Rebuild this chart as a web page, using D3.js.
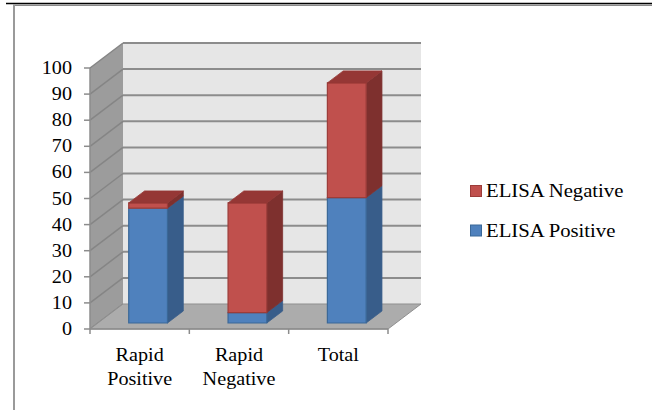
<!DOCTYPE html>
<html>
<head>
<meta charset="utf-8">
<script src="https://cdn.jsdelivr.net/npm/d3@7/dist/d3.min.js"></script>
<style>
  html, body { margin: 0; padding: 0; background: #fff; }
  svg { display: block; }
  text { font-family: "Times New Roman", "Liberation Serif", serif; fill: #000; }
</style>
</head>
<body>
<svg id="chart" width="652" height="410"></svg>
<script>
// Rapid test vs ELISA results (stacked counts)
const categories = [["Rapid", "Positive"], ["Rapid", "Negative"], ["Total"]];
const seriesNames = ["ELISA Positive", "ELISA Negative"];
const elisaPositive = [44, 4, 48];
const elisaNegative = [2, 42, 44];
const yTicks = [0, 10, 20, 30, 40, 50, 60, 70, 80, 90, 100];

const svg = d3.select("#chart");

// Page frame
svg.append("line").attr("x1", 6).attr("x2", 652).attr("y1", 3.5).attr("y2", 3.5)
  .attr("stroke", "#000").attr("stroke-width", 1.5);
svg.append("line").attr("x1", 13).attr("x2", 652).attr("y1", 5.2).attr("y2", 5.2)
  .attr("stroke", "#8a8a8a").attr("stroke-width", 1.4);
svg.append("line").attr("x1", 14).attr("x2", 14).attr("y1", 5).attr("y2", 410)
  .attr("stroke", "#9a9a9a").attr("stroke-width", 2);

// 3-D plot geometry: front plane plus an oblique depth offset
const DX = 33, DY = -25;
const x = d3.scaleBand().domain(d3.range(categories.length)).range([90, 388]).padding(0);
const y = d3.scaleLinear().domain([0, 100]).range([329, 68]);
const P = (px, v, depth) => [px + depth * DX, y(v) + depth * DY];
const poly = pts => "M" + pts.map(p => p.join(",")).join("L") + "Z";

const x0 = x.range()[0], x1 = x.range()[1];
const g = svg.append("g");

// Back wall
g.append("path")
  .attr("d", poly([P(x0, 100, 1), P(x1, 100, 1), P(x1, 0, 1), P(x0, 0, 1)]))
  .attr("fill", "#e6e6e6");
// Side wall
g.append("path")
  .attr("d", poly([P(x0, 0, 0), P(x0, 100, 0), P(x0, 100, 1), P(x0, 0, 1)]))
  .attr("fill", "#9c9c9c");

// Gridlines on back wall and side wall
yTicks.forEach(v => {
  if (v > 0) {
    const a = P(x0, v, 1), b = P(x1, v, 1);
    g.append("line").attr("x1", a[0]).attr("y1", a[1]).attr("x2", b[0]).attr("y2", b[1])
      .attr("stroke", "#8c8c8c").attr("stroke-width", 2);
  }
  const c = P(x0, v, 0), d = P(x0, v, 1);
  g.append("line").attr("x1", c[0]).attr("y1", c[1]).attr("x2", d[0]).attr("y2", d[1])
    .attr("stroke", "#858585").attr("stroke-width", 1.5);
});

// Floor
g.append("path")
  .attr("d", poly([P(x0, 0, 0), P(x1, 0, 0), P(x1, 0, 1), P(x0, 0, 1)]))
  .attr("fill", "#acacac").attr("stroke", "#8f8f8f").attr("stroke-width", 1);

// Value axis line and ticks
g.append("line").attr("x1", x0).attr("x2", x0).attr("y1", y(0)).attr("y2", y(100))
  .attr("stroke", "#8c8c8c").attr("stroke-width", 1.5);
const TX = 1.12; // horizontal stretch of the label type
const yAxis = g.append("g");
yTicks.forEach(v => {
  yAxis.append("line").attr("x1", x0 - 6).attr("x2", x0).attr("y1", y(v)).attr("y2", y(v))
    .attr("stroke", "#8c8c8c").attr("stroke-width", 1.5);
  yAxis.append("text")
    .attr("transform", `translate(72,${y(v) + 6}) scale(${TX},1)`)
    .attr("text-anchor", "end").attr("font-size", 18).text(v);
});

// Category ticks and labels
g.append("line").attr("x1", x0).attr("x2", x1).attr("y1", y(0)).attr("y2", y(0))
  .attr("stroke", "#8c8c8c").attr("stroke-width", 1.5);
d3.range(categories.length + 1).forEach(i => {
  const px = x0 + i * x.step();
  g.append("line").attr("x1", px).attr("x2", px).attr("y1", y(0)).attr("y2", y(0) + 5)
    .attr("stroke", "#8c8c8c").attr("stroke-width", 1.5);
});
categories.forEach((lines, i) => {
  const cx = x(i) + x.bandwidth() / 2;
  lines.forEach((t, j) => {
    g.append("text")
      .attr("transform", `translate(${cx},${361 + j * 24}) scale(${TX},1)`)
      .attr("text-anchor", "middle").attr("font-size", 18).text(t);
  });
});

// Stacked 3-D bars
const colors = {
  "ELISA Positive": { front: "#4f81bd", side: "#385d8a", top: "#3f6ba0", edge: "#3a6898" },
  "ELISA Negative": { front: "#c0504d", side: "#7e302e", top: "#953735", edge: "#9c3c39" }
};
const stack = d3.stack().keys(seriesNames)(
  categories.map((c, i) => ({ "ELISA Positive": elisaPositive[i], "ELISA Negative": elisaNegative[i] }))
);
const barFrac = 0.39, dFront = 0.24, dBack = 0.72;
const bars = svg.append("g");
categories.forEach((c, i) => {
  const bx0 = x(i) + x.bandwidth() * (1 - barFrac) / 2 + 0.5;
  const bx1 = bx0 + x.bandwidth() * barFrac;
  const segs = stack.map(s => ({ key: s.key, lo: s[i][0], hi: s[i][1] })).filter(s => s.hi > s.lo);
  segs.forEach((s, k) => {
    const col = colors[s.key];
    // right side face
    bars.append("path")
      .attr("d", poly([P(bx1, s.lo, dFront), P(bx1, s.lo, dBack), P(bx1, s.hi, dBack), P(bx1, s.hi, dFront)]))
      .attr("fill", col.side).attr("stroke", col.side).attr("stroke-width", 0.8);
    // front face
    bars.append("path")
      .attr("d", poly([P(bx0, s.lo, dFront), P(bx1, s.lo, dFront), P(bx1, s.hi, dFront), P(bx0, s.hi, dFront)]))
      .attr("fill", col.front).attr("stroke", col.edge).attr("stroke-width", 1.2);
    // top face of the uppermost segment
    if (k === segs.length - 1) {
      bars.append("path")
        .attr("d", poly([P(bx0, s.hi, dFront), P(bx1, s.hi, dFront), P(bx1, s.hi, dBack), P(bx0, s.hi, dBack)]))
        .attr("fill", col.top).attr("stroke", col.top).attr("stroke-width", 0.8);
    }
  });
});

// Legend (top entry is the upper stack segment)
const legend = svg.append("g");
[...seriesNames].reverse().forEach((name, i) => {
  const ly = 197 + i * 39.5;
  legend.append("rect").attr("x", 470.5).attr("y", ly - 11.5).attr("width", 11).attr("height", 11)
    .attr("fill", colors[name].front).attr("stroke", colors[name].edge).attr("stroke-width", 1);
  legend.append("text")
    .attr("transform", `translate(486,${ly}) scale(${TX},1)`)
    .attr("font-size", 18.5).text(name);
});
</script>
</body>
</html>
